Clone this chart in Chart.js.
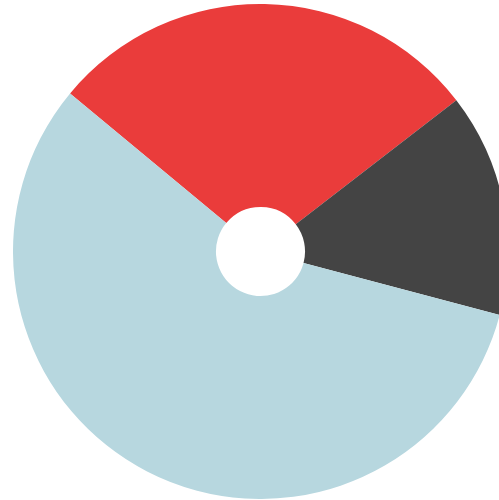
<!doctype html>
<html lang="en">
    <head>
        <meta charset="utf-8">
        <title>Doughnut</title>
        <script src="https://cdn.jsdelivr.net/npm/chart.js@4/dist/chart.umd.min.js"></script>
        <style>
            html, body { margin: 0; padding: 0; overflow: hidden; background: #fff; }
            #wrap { position: absolute; left: 13px; top: 4px; width: 495px; height: 495px; }
        </style>
    </head>

    <body>
        <div id="wrap">
            <canvas id="myChart" width="495" height="495"></canvas>
        </div>
        <script type="text/javascript">
            // slices, clockwise from the red one
            var labels = ["Red", "Dark", "Light blue"];
            var values = [28.5, 14.6, 56.9];
            var colors = ["#EA3C3B", "#444444", "#B7D7DF"];

            var ctx = document.getElementById("myChart").getContext("2d");
            var myChart = new Chart(ctx, {
                type: "doughnut",
                data: {
                    labels: labels,
                    datasets: [{
                        data: values,
                        backgroundColor: colors,
                        borderWidth: 0,
                        hoverOffset: 0
                    }]
                },
                options: {
                    responsive: false,
                    animation: false,
                    cutout: "18%",
                    rotation: -50.3,
                    layout: { padding: 0 },
                    plugins: {
                        legend: { display: false },
                        tooltip: { enabled: false }
                    }
                }
            });
        </script>
    </body>
</html>
